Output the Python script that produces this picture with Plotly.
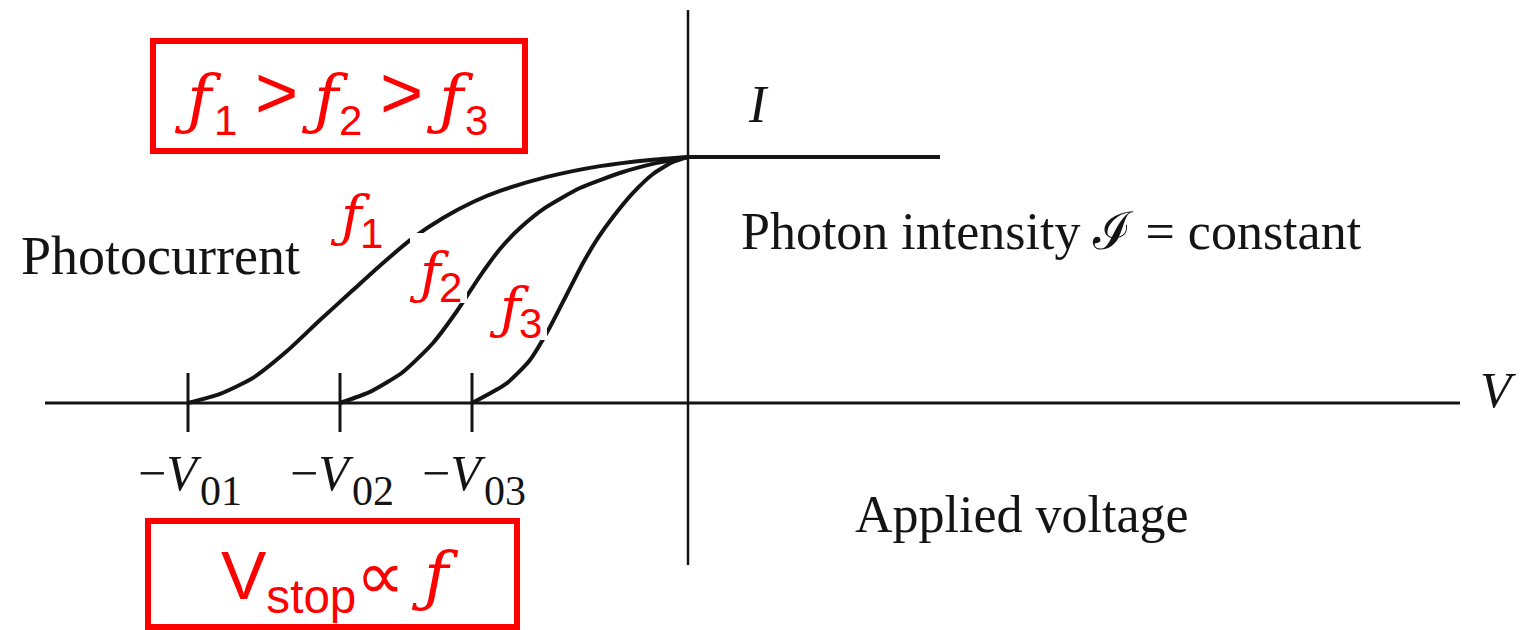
import plotly.graph_objects as go

# Photocurrent vs applied voltage for three light frequencies (arbitrary units)
v_f1 = [-5.00, -4.68, -4.35, -4.01, -3.68, -3.35, -3.05, -2.75, -2.45, -2.15, -1.88, -1.41, -0.88, -0.38, 0.00]
i_f1 = [0.000, 0.037, 0.102, 0.211, 0.337, 0.459, 0.569, 0.671, 0.752, 0.817, 0.862, 0.919, 0.963, 0.988, 1.000]

v_f2 = [-3.48, -3.18, -2.85, -2.55, -2.31, -2.08, -1.88, -1.68, -1.43, -1.08, -0.65, -0.31, 0.00]
i_f2 = [0.000, 0.045, 0.126, 0.244, 0.374, 0.516, 0.626, 0.711, 0.793, 0.874, 0.939, 0.976, 1.000]

v_f3 = [-2.16, -1.81, -1.58, -1.38, -1.21, -1.05, -0.90, -0.75, -0.55, -0.35, -0.15, 0.00]
i_f3 = [0.000, 0.081, 0.175, 0.309, 0.443, 0.569, 0.671, 0.756, 0.854, 0.931, 0.980, 1.000]

# saturation current beyond V = 0
v_sat = [0.00, 2.52]
i_sat = [1.00, 1.00]

# stopping voltages and their label subscripts
stop_v = [-5.00, -3.48, -2.16]
stop_subs = ["01", "02", "03"]

X_RANGE = [-6.88, 8.40]
Y_RANGE = [-0.9228, 1.6382]
W, H = 1528, 630
INK = "#141414"
RED = "#ff0000"
SERIF = "Liberation Serif"
SANS = "Liberation Sans"
F_FONT = "DejaVu Serif"
F_GLYPH = "<i>\u0192</i>"  # slanted hooked f used for frequency


def px(x, y):
    """pixel position -> paper coordinates"""
    return x / W, 1 - y / H


fig = go.Figure()

# axes drawn as plain lines
fig.add_trace(go.Scatter(x=[-6.43, 7.72], y=[0, 0], mode="lines",
                         line=dict(color=INK, width=3), hoverinfo="skip"))
fig.add_trace(go.Scatter(x=[0, 0], y=[-0.659, 1.598], mode="lines",
                         line=dict(color=INK, width=2.5), hoverinfo="skip"))

# tick marks at the stopping voltages
for v in stop_v:
    fig.add_trace(go.Scatter(x=[v, v], y=[-0.118, 0.122], mode="lines",
                             line=dict(color=INK, width=3), hoverinfo="skip"))

for vx, iy in [(v_f1, i_f1), (v_f2, i_f2), (v_f3, i_f3)]:
    fig.add_trace(go.Scatter(x=vx, y=iy, mode="lines",
                             line=dict(color=INK, width=4, shape="spline", smoothing=0.6),
                             hoverinfo="skip"))
fig.add_trace(go.Scatter(x=v_sat, y=i_sat, mode="lines",
                         line=dict(color=INK, width=4), hoverinfo="skip"))

annotations = []
shapes = []


def label(text, x, y, size, family=SERIF, color=INK, anchor="center"):
    ax, ay = px(x, y)
    annotations.append(dict(text=text, x=ax, y=ay, xref="paper", yref="paper",
                            showarrow=False, xanchor=anchor, yanchor="middle",
                            font=dict(family=family, size=size, color=color)))


def red_f(x, y, size):
    label(F_GLYPH, x, y, size, family=F_FONT, color=RED)


def red_sans(text, x, y, size, anchor="center"):
    label(text, x, y, size, family=SANS, color=RED, anchor=anchor)


# black serif captions
label("Photocurrent", 160, 256, 54)
label("Photon intensity \u2110 = constant", 1051, 231, 52)
label("Applied voltage", 1022, 514, 52)
label("<i>I</i>", 758, 105, 52)
label("<i>V</i>", 1498, 390, 51)

# stopping-voltage labels under the ticks
for v, sub in zip(stop_v, stop_subs):
    annotations.append(dict(text="\u2212<i>V</i>", x=v, y=px(0, 473)[1], xref="x", yref="paper",
                            xshift=-18, showarrow=False, xanchor="center", yanchor="middle",
                            font=dict(family=SERIF, size=50, color=INK)))
    annotations.append(dict(text=sub, x=v, y=px(0, 491)[1], xref="x", yref="paper",
                            xshift=33, showarrow=False, xanchor="center", yanchor="middle",
                            font=dict(family=SERIF, size=42, color=INK)))

# white patches under the curve labels
for (x0, y0, x1, y1) in [(330, 188, 397, 248), (410, 233, 467, 303), (488, 283, 547, 340)]:
    a0, b0 = px(x0, y0)
    a1, b1 = px(x1, y1)
    shapes.append(dict(type="rect", xref="paper", yref="paper", x0=a0, y0=b1, x1=a1, y1=b0,
                       line=dict(width=0), fillcolor="white", layer="above"))

# curve labels f1, f2, f3
for sub, (fx, fy), (sx, sy) in zip(["1", "2", "3"],
                                   [(350, 216), (429, 273), (509, 308)],
                                   [(371, 233), (450, 288), (530, 323)]):
    red_f(fx, fy, 56)
    red_sans(sub, sx, sy, 42)

# boxed statement: f1 > f2 > f3
red_f(198, 99, 66)
red_sans("1", 225, 120, 42)
red_sans(">", 276, 92, 74)
red_f(325, 99, 66)
red_sans("2", 350, 120, 42)
red_sans(">", 401, 92, 74)
red_f(450, 99, 66)
red_sans("3", 476, 120, 42)

# boxed statement: V_stop ∝ f
red_sans("V<sub>stop</sub>\u221d", 219, 580, 68, anchor="left")
red_f(435, 576, 66)

for (x0, y0, x1, y1) in [(153, 41, 525, 151), (148, 521, 517, 627)]:
    a0, b0 = px(x0, y0)
    a1, b1 = px(x1, y1)
    shapes.append(dict(type="rect", xref="paper", yref="paper", x0=a0, y0=b1, x1=a1, y1=b0,
                       line=dict(color=RED, width=6), fillcolor="rgba(0,0,0,0)"))

fig.update_layout(
    width=W, height=H,
    margin=dict(l=0, r=0, t=0, b=0),
    paper_bgcolor="white", plot_bgcolor="white",
    showlegend=False,
    xaxis=dict(range=X_RANGE, visible=False, fixedrange=True),
    yaxis=dict(range=Y_RANGE, visible=False, fixedrange=True),
    annotations=annotations,
    shapes=shapes,
)

fig.write_html("out.html", config={"displayModeBar": False})
